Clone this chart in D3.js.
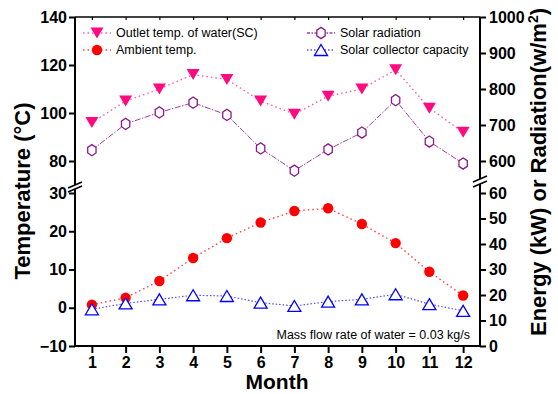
<!DOCTYPE html>
<html>
<head>
<meta charset="utf-8">
<script src="https://cdn.jsdelivr.net/npm/d3@7"></script>
<style>
  body { margin: 0; background: #fff; }
  svg { font-family: "Liberation Sans", Arial, sans-serif; }
  .tick text { font-weight: bold; font-size: 16px; fill: #000; }
</style>
</head>
<body>
<svg width="558" height="394"></svg>
<script>
const months = [1, 2, 3, 4, 5, 6, 7, 8, 9, 10, 11, 12];
const outletTemp = [96, 105, 110, 116, 114, 105, 99.5, 107, 110, 118, 102, 92];
const ambientTemp = [0.8, 2.6, 7.0, 13.0, 18.2, 22.3, 25.3, 26.0, 21.9, 16.9, 9.4, 3.2];
const solarRad = [630, 703, 735, 762, 728, 635, 573, 632, 679, 769, 654, 593];
const collectorCap = [14.4, 16.7, 18.3, 19.9, 19.6, 17.0, 15.7, 17.4, 18.3, 20.3, 16.4, 13.8];

const leftTopTicks = [80, 100, 120, 140];
const leftBotTicks = [-10, 0, 10, 20, 30];
const rightTopTicks = [600, 700, 800, 900, 1000];
const rightBotTicks = [0, 10, 20, 30, 40, 50, 60];

const pink = "#ff0a7f", red = "#ff0000", purple = "#8b1a8b", blue = "#0000ff";

let svg = d3.select("svg");
const plotLeft = 75, plotRight = 480, plotTop = 17, plotBottom = 346;

let x = d3.scaleLinear().domain([0.5, 12.5]).range([plotLeft, plotRight]);
let yTopL = d3.scaleLinear().domain([80, 140]).range([161, plotTop]);
let yBotL = d3.scaleLinear().domain([-10, 30]).range([plotBottom, 193]);
let yTopR = d3.scaleLinear().domain([600, 1000]).range([161, plotTop]);
let yBotR = d3.scaleLinear().domain([0, 60]).range([plotBottom, 193]);

// marker shapes
const triDown = "M-6.5,-5.5L6.5,-5.5L0,5.5Z";
const triUp = "M0,-5.5L6.5,5.5L-6.5,5.5Z";
const hexagon = d3.range(6).map(i => {
    let a = Math.PI / 2 + i * Math.PI / 3;
    return [4.8 * Math.cos(a), 5.6 * Math.sin(a)];
});
const hexPath = "M" + hexagon.map(p => p[0].toFixed(2) + "," + p[1].toFixed(2)).join("L") + "Z";
const circle = "M5.2,0A5.2,5.2 0 1 1 -5.2,0A5.2,5.2 0 1 1 5.2,0Z";

// axes
function axisText(g) {
    g.attr("font-family", null).attr("font-size", null);
    g.select(".domain").remove();
    g.selectAll(".tick line").attr("stroke", "#000").attr("stroke-width", 2);
}

const fmt = d3.format("d");
svg.append("g").attr("transform", "translate(" + plotLeft + ",0)")
    .call(d3.axisLeft(yTopL).tickValues(leftTopTicks).tickFormat(fmt).tickSize(6).tickPadding(2)).call(axisText);
svg.append("g").attr("transform", "translate(" + plotLeft + ",0)")
    .call(d3.axisLeft(yBotL).tickValues(leftBotTicks).tickFormat(fmt).tickSize(6).tickPadding(2)).call(axisText);
svg.append("g").attr("transform", "translate(" + plotRight + ",0)")
    .call(d3.axisRight(yTopR).tickValues(rightTopTicks).tickFormat(fmt).tickSize(6).tickPadding(3)).call(axisText);
svg.append("g").attr("transform", "translate(" + plotRight + ",0)")
    .call(d3.axisRight(yBotR).tickValues(rightBotTicks).tickFormat(fmt).tickSize(6).tickPadding(3)).call(axisText);
svg.append("g").attr("transform", "translate(0," + plotBottom + ")")
    .call(d3.axisBottom(x).tickValues(months).tickFormat(fmt).tickSize(7).tickPadding(4)).call(axisText);
svg.append("g").attr("transform", "translate(0," + plotTop + ")")
    .call(d3.axisBottom(x).tickValues(months).tickSize(3).tickFormat("")).call(axisText)
    .selectAll(".tick line").attr("stroke-width", 1.2);

// frame lines with breaks
let frame = svg.append("g").attr("stroke", "#000").attr("stroke-width", 2).attr("fill", "none");
frame.append("line").attr("x1", plotLeft).attr("x2", plotLeft).attr("y1", plotTop).attr("y2", 185);
frame.append("line").attr("x1", plotLeft).attr("x2", plotLeft).attr("y1", 189).attr("y2", plotBottom + 1);
frame.append("line").attr("x1", plotRight).attr("x2", plotRight).attr("y1", plotTop).attr("y2", 179);
frame.append("line").attr("x1", plotRight).attr("x2", plotRight).attr("y1", 184).attr("y2", plotBottom + 1);
frame.append("line").attr("x1", plotLeft - 1).attr("x2", plotRight + 1).attr("y1", plotBottom).attr("y2", plotBottom);
frame.append("line").attr("x1", plotLeft).attr("x2", plotRight).attr("y1", plotTop).attr("y2", plotTop).attr("stroke-width", 1.5);

let breaks = svg.append("g").attr("stroke", "#000").attr("stroke-width", 1.6);
[[plotLeft, 185], [plotLeft, 189], [plotRight, 179], [plotRight, 184]].forEach(b => {
    breaks.append("line").attr("x1", b[0] - 7).attr("y1", b[1] + 3).attr("x2", b[0] + 7).attr("y2", b[1] - 3);
});

// series
function drawSeries(values, yScale, color, lineColor, dash, width, marker, fill) {
    let pts = d3.zip(months, values);
    svg.append("path")
        .datum(pts)
        .attr("fill", "none")
        .attr("stroke", lineColor)
        .attr("stroke-width", width)
        .attr("stroke-dasharray", dash)
        .attr("d", d3.line().x(d => x(d[0])).y(d => yScale(d[1])));
    svg.append("g").selectAll("path")
        .data(pts).enter()
        .append("path")
        .attr("transform", d => "translate(" + x(d[0]) + "," + yScale(d[1]) + ")")
        .attr("d", marker)
        .attr("fill", fill)
        .attr("stroke", color)
        .attr("stroke-width", fill === "#fff" ? 1.3 : 0);
}

drawSeries(solarRad, yTopR, purple, "#a040a0", "6,1.5,1.5,1.5", 1, hexPath, "#fff");
drawSeries(outletTemp, yTopL, pink, "#ff5aa8", "1.5,3", 1.4, triDown, pink);
drawSeries(ambientTemp, yBotL, red, "#ff4040", "1.5,3", 1.4, circle, red);
drawSeries(collectorCap, yBotR, blue, "#5050ff", "1.5,2", 1.2, triUp, "#fff");

// legend
let legendItems = [
    {label: "Outlet temp. of water(SC)", x: 83, y: 33, color: pink, line: "#ff5aa8", dash: "1.5,3", marker: triDown, fill: pink},
    {label: "Ambient temp.", x: 83, y: 50, color: red, line: "#ff4040", dash: "1.5,3", marker: circle, fill: red},
    {label: "Solar radiation", x: 307, y: 33, color: purple, line: "#a040a0", dash: "3,1.5,1.5,1.5", marker: hexPath, fill: "#fff"},
    {label: "Solar collector capacity", x: 307, y: 50, color: blue, line: "#5050ff", dash: "1.5,2", marker: triUp, fill: "#fff"}
];
let legend = svg.append("g");
legendItems.forEach(d => {
    legend.append("line").attr("x1", d.x).attr("x2", d.x + 28).attr("y1", d.y).attr("y2", d.y)
        .attr("stroke", d.line).attr("stroke-width", 1.3).attr("stroke-dasharray", d.dash);
    legend.append("path").attr("transform", "translate(" + (d.x + 14) + "," + d.y + ")")
        .attr("d", d.marker).attr("fill", d.fill).attr("stroke", d.color)
        .attr("stroke-width", d.fill === "#fff" ? 1.3 : 0);
    legend.append("text").attr("x", d.x + 33).attr("y", d.y).attr("dy", "0.35em")
        .attr("font-size", 12.5).text(d.label);
});

// annotation
svg.append("text").attr("x", 470).attr("y", 335).attr("dy", "0.35em")
    .attr("text-anchor", "end").attr("font-size", 12.5)
    .text("Mass flow rate of water = 0.03 kg/s");

// axis titles
svg.append("text").attr("x", 277).attr("y", 389).attr("text-anchor", "middle")
    .attr("font-size", 21).attr("font-weight", "bold").text("Month");

svg.append("text").attr("transform", "translate(30,191) rotate(-90)")
    .attr("text-anchor", "middle").attr("font-size", 22).attr("font-weight", "bold")
    .text("Temperature (°C)");

let rt = svg.append("text").attr("transform", "translate(546,172) rotate(-90)")
    .attr("text-anchor", "middle").attr("font-size", 22).attr("font-weight", "bold");
rt.append("tspan").text("Energy (kW) or Radiation(w/m");
rt.append("tspan").attr("font-size", 14).attr("dy", -8).text("2");
rt.append("tspan").attr("dy", 8).text(")");
</script>
</body>
</html>
